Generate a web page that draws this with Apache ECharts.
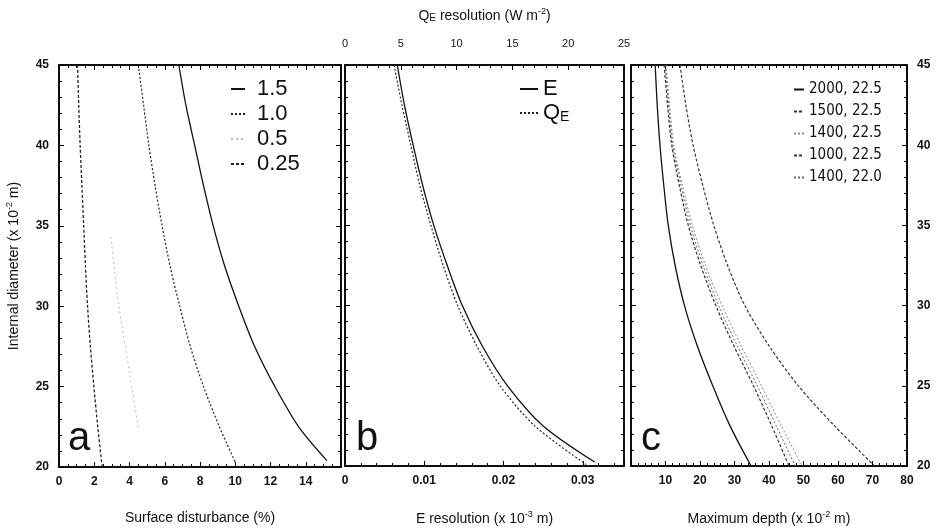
<!DOCTYPE html>
<html>
<head>
<meta charset="utf-8">
<script src="https://cdn.jsdelivr.net/npm/echarts@6/dist/echarts.min.js"></script>
<style>
  html, body { margin: 0; padding: 0; background: #fff; }
  #main { width: 937px; height: 531px; }
</style>
</head>
<body>
<div id="main"></div>
<script>
var dom = document.getElementById('main');
var myChart = echarts.init(dom);

// panel a : surface disturbance (%) vs internal diameter
var aDiam = [45, 42.5, 40, 37.5, 35, 32.5, 30, 27.5, 25, 22.5, 20.4];
var a15 = [6.8, 7.2, 7.7, 8.2, 8.75, 9.4, 10.2, 11.1, 12.25, 13.6, 15.2];
var a10Diam = [45, 42.5, 40, 37.5, 35, 32.5, 30, 27.5, 25, 22.5, 20.3];
var a10 = [4.5, 4.8, 5.1, 5.45, 5.85, 6.3, 6.85, 7.45, 8.2, 9.1, 10.0];
var a05Diam = [34.3, 30, 25.9, 22.4];
var a05 = [2.95, 3.4, 4.0, 4.5];
var a025Diam = [45, 42.5, 40, 37.5, 35, 32.5, 30, 27.5, 25, 22.5, 20];
var a025 = [1.05, 1.12, 1.2, 1.3, 1.4, 1.5, 1.62, 1.78, 1.98, 2.2, 2.45];

// panel b : E resolution (x 10^-3 m) and QE resolution (W m^-2)
var bDiamE = [45, 42.5, 40, 37.5, 35, 32.5, 30, 27.5, 25, 22.5, 20.25];
var bE = [0.0066, 0.0075, 0.0086, 0.0098, 0.0112, 0.0129, 0.0148, 0.0173, 0.0205, 0.0250, 0.0315];
var bDiamQ = [45, 42.5, 40, 37.5, 35, 32.5, 30, 27.5, 25, 22.5, 20.1];
var bQ = [4.4, 5.1, 5.9, 6.7, 7.7, 8.8, 10.1, 11.8, 13.9, 17.0, 21.6];

// panel c : maximum depth (x 10^-2 m)
var cDiam = [45, 42.5, 40, 37.5, 35, 32.5, 30, 27.5, 25, 22.5, 20];
var c2000 = [7.0, 7.6, 8.4, 9.5, 10.8, 12.8, 15.5, 19.2, 23.7, 28.7, 34.8];
var c1500 = [9.6, 10.6, 11.8, 14.0, 16.6, 20.2, 24.6, 29.8, 35.5, 40.8, 45.8];
var c1400b = [9.9, 10.9, 12.1, 14.5, 17.2, 20.9, 25.4, 30.8, 36.6, 42.1, 47.6];
var c1400 = [10.2, 11.2, 12.4, 14.9, 17.8, 21.6, 26.4, 31.9, 37.8, 43.6, 49.6];
var c1000 = [14.2, 15.9, 18.0, 20.8, 24.0, 28.0, 33.0, 40.0, 48.5, 59.0, 70.6];

function pairs(xs, ys) {
    var out = [];
    for (var i = 0; i < xs.length; i++) out.push([xs[i], ys[i]]);
    return out;
}

var FONT = 'Liberation Sans';
var supRich = {
    sup: { fontSize: 9, fontFamily: FONT, padding: [0, 0, 9, 0] },
    sub: { fontSize: 10, fontFamily: FONT, padding: [5, 0, 0, 0] }
};

var tickLabel = { fontFamily: FONT, fontSize: 12, fontWeight: 'bold', color: '#111' };

function xAx(grid, pos, min, max, interval, showLabel, minorSplit, extra) {
    var ax = {
        type: 'value', gridIndex: grid, position: pos, min: min, max: max, interval: interval,
        splitLine: { show: false },
        axisLine: { show: true, onZero: false, lineStyle: { color: '#000', width: 1.5 } },
        axisTick: { show: true, inside: true, length: 5, lineStyle: { color: '#000' } },
        minorTick: { show: true, splitNumber: minorSplit, length: 3, lineStyle: { color: '#000' } },
        axisLabel: Object.assign({ show: showLabel, margin: 9, showMaxLabel: false }, tickLabel)
    };
    return Object.assign(ax, extra || {});
}

function yAx(grid, pos, showLabel) {
    return {
        type: 'value', gridIndex: grid, position: pos, min: 20, max: 45, interval: 5,
        splitLine: { show: false },
        axisLine: { show: true, onZero: false, lineStyle: { color: '#000', width: 1.5 } },
        axisTick: { show: true, inside: true, length: 5, lineStyle: { color: '#000' } },
        minorTick: { show: true, splitNumber: 5, length: 3, lineStyle: { color: '#000' } },
        axisLabel: Object.assign({ show: showLabel, margin: 10 }, tickLabel)
    };
}

var nameStyle = { fontFamily: FONT, fontSize: 14, color: '#111', rich: supRich };

function line(name, xi, yi, data, type, color, width) {
    return {
        name: name, type: 'line', xAxisIndex: xi, yAxisIndex: yi,
        data: data, smooth: 0.3, symbol: 'none', silent: true,
        lineStyle: { color: color, width: width || 1.2, type: type },
        itemStyle: { color: color }
    };
}

function legendText(size, family, pad) {
    return { fontFamily: family || FONT, fontSize: size, color: '#111', padding: pad || [0, 0, 0, 0], rich: {
        q: { fontFamily: FONT, fontSize: size, color: '#111' },
        e: { fontFamily: FONT, fontSize: Math.round(size * 0.62), color: '#111', padding: [8, 0, 0, 0] }
    } };
}

option = {
    backgroundColor: '#fff',
    animation: false,
    grid: [
        { left: 59, top: 65, width: 282, height: 402, show: true, borderColor: '#000', borderWidth: 1.5 },
        { left: 345, top: 65, width: 279, height: 402, show: true, borderColor: '#000', borderWidth: 1.5 },
        { left: 631, top: 65, width: 276, height: 402, show: true, borderColor: '#000', borderWidth: 1.5 }
    ],
    xAxis: [
        xAx(0, 'bottom', 0, 16, 2, true, 4, {
            name: 'Surface disturbance (%)', nameLocation: 'middle', nameGap: 44, nameTextStyle: nameStyle
        }),
        xAx(1, 'bottom', 0, 0.0352, 0.01, true, 5, {
            name: 'E resolution (x 10{sup|-3} m)', nameLocation: 'middle', nameGap: 44, nameTextStyle: nameStyle
        }),
        xAx(1, 'top', 0, 25, 5, true, 5, {
            name: 'Q{sub|E} resolution (W m{sup|-2})', nameLocation: 'middle', nameGap: 40, nameTextStyle: nameStyle,
            axisLabel: Object.assign({ show: true, margin: 16, showMaxLabel: true }, tickLabel, { fontWeight: 'normal', fontSize: 11 })
        }),
        xAx(2, 'bottom', 0, 80, 10, true, 5, {
            name: 'Maximum depth (x 10{sup|-2} m)', nameLocation: 'middle', nameGap: 44, nameTextStyle: nameStyle,
            axisLabel: Object.assign({ show: true, margin: 9, showMaxLabel: true, showMinLabel: false }, tickLabel)
        }),
        xAx(0, 'top', 0, 16, 2, false, 4),
        xAx(2, 'top', 0, 80, 10, false, 5)
    ],
    yAxis: [
        Object.assign(yAx(0, 'left', true), {
            name: 'Internal diameter (x 10{sup|-2} m)', nameLocation: 'middle', nameGap: 36,
            nameRotate: 90, nameTextStyle: nameStyle
        }),
        yAx(0, 'right', false),
        yAx(1, 'left', false),
        yAx(1, 'right', false),
        yAx(2, 'left', false),
        yAx(2, 'right', true)
    ],
    legend: [
        {
            orient: 'vertical', left: 225, top: 73, itemWidth: 14, itemHeight: 10, itemGap: 3,
            itemStyle: { opacity: 0 },
            data: ['1.5', '1.0', '0.5', '0.25'], textStyle: legendText(22, FONT, [0, 0, 0, 7]), selectedMode: false
        },
        {
            orient: 'vertical', left: 514, top: 73, itemWidth: 18, itemHeight: 10, itemGap: 2,
            itemStyle: { opacity: 0 },
            data: ['E', 'QE'], selectedMode: false, textStyle: legendText(22),
            formatter: function (n) { return n === 'QE' ? '{q|Q}{e|E}' : n; }
        },
        {
            orient: 'vertical', left: 788, top: 77, itemWidth: 10, itemHeight: 10, itemGap: 7,
            itemStyle: { opacity: 0 },
            data: ['2000, 22.5', '1500, 22.5', '1400, 22.5', '1000, 22.5', '1400, 22.0'],
            selectedMode: false, textStyle: legendText(15, "'DejaVu Sans Condensed', 'Liberation Sans'")
        }
    ],
    graphic: [
        { type: 'text', left: 68, top: 419, style: { text: 'a', fontFamily: FONT, fontSize: 40, fill: '#111' } },
        { type: 'text', left: 356, top: 419, style: { text: 'b', fontFamily: FONT, fontSize: 40, fill: '#111' } },
        { type: 'text', left: 641, top: 419, style: { text: 'c', fontFamily: FONT, fontSize: 40, fill: '#111' } }
    ],
    series: [
        line('1.5', 0, 0, pairs(a15, aDiam), 'solid', '#111', 1.3),
        line('1.0', 0, 0, pairs(a10, a10Diam), [2, 2], '#222', 1.2),
        line('0.5', 0, 0, pairs(a05, a05Diam), [2, 3], '#bbb', 1),
        line('0.25', 0, 0, pairs(a025, a025Diam), [3, 2], '#222', 1.3),

        line('E', 1, 2, pairs(bE, bDiamE), 'solid', '#111', 1.3),
        line('QE', 2, 2, pairs(bQ, bDiamQ), [2, 2], '#222', 1.2),

        line('2000, 22.5', 3, 4, pairs(c2000, cDiam), 'solid', '#111', 1.3),
        line('1500, 22.5', 3, 4, pairs(c1500, cDiam), [3, 2], '#333', 1.2),
        line('1400, 22.5', 3, 4, pairs(c1400, cDiam), [2, 2], '#888', 1),
        line('1000, 22.5', 3, 4, pairs(c1000, cDiam), [3, 2], '#333', 1.2),
        line('1400, 22.0', 3, 4, pairs(c1400b, cDiam), [2, 2], '#666', 1)
    ]
};

myChart.setOption(option);
</script>
</body>
</html>
